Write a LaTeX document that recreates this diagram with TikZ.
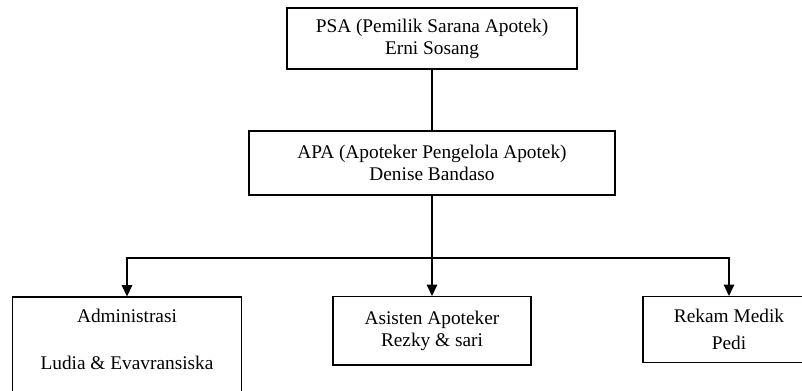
\documentclass[tikz,border=0pt]{standalone}
\usepackage{fontspec}
\setmainfont{Liberation Serif}
\usepackage{tikz}
\usetikzlibrary{positioning,arrows.meta}

\begin{document}
\begin{tikzpicture}[
  unit/.style={draw, line width=0.6pt, align=center,
    font=\fontsize{11}{12.5}\selectfont},
  link/.style={line width=0.9pt},
  arr/.style={link, -{Triangle[length=6.5pt, width=6pt]}},
]
  \clip (0,0) rectangle (16.04,7.82);

  \node[unit, minimum width=5.8cm, minimum height=1.22cm] (psa) at (8.64, 7.05)
    {PSA (Pemilik Sarana Apotek)\\Erni Sosang};
  \node[unit, minimum width=7.32cm, minimum height=1.28cm] (apa) at (8.64, 4.56)
    {APA (Apoteker Pengelola Apotek)\\Denise Bandaso};

  \node[unit, anchor=north, minimum width=4.58cm, inner ysep=7pt] (adm) at (2.54, 1.89)
    {Administrasi\\[14pt]Ludia \& Evavransiska\\[20pt]~};
  \node[unit, minimum width=3.96cm, minimum height=1.37cm] (ast) at (8.64, 1.205)
    {Asisten Apoteker\\Rezky \& sari};
  \node[unit, minimum width=3.44cm, minimum height=1.32cm] (rek) at (14.58, 1.23)
    {Rekam Medik\\[3pt]Pedi};

  \coordinate (bus) at (8.64, 2.66);

  \draw[link] (psa) -- (apa);
  \draw[link] (apa) -- (bus);
  \draw[arr] (bus) -| (adm.north);
  \draw[arr] (bus) -- (ast);
  \draw[arr] (bus) -| (rek.north);
\end{tikzpicture}
\end{document}
